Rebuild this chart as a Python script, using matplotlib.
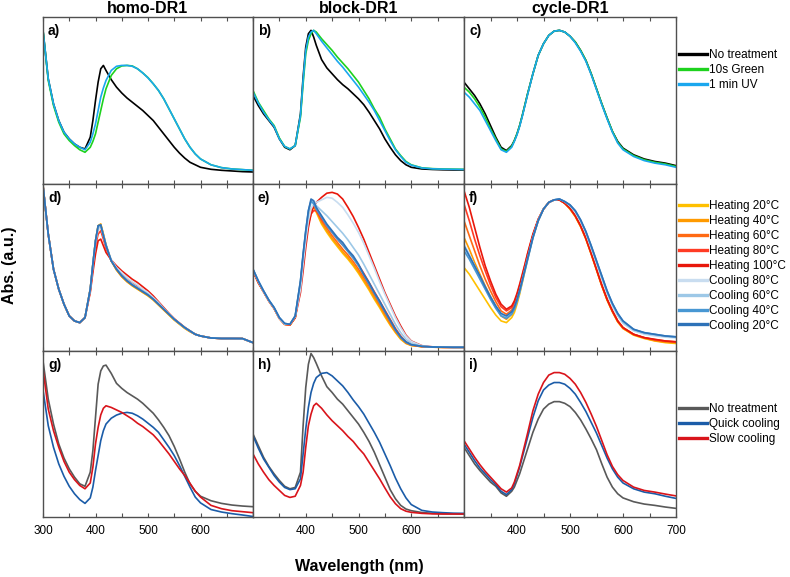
import matplotlib
matplotlib.use("Agg")
import matplotlib.pyplot as plt

plt.rcParams["font.family"] = ["Liberation Sans", "DejaVu Sans"]

# ----------------------------- Data ------------------------------------------
# wavelength grid (nm); values are absorbance in % of panel height (a.u.)
WL = [300, 310, 320, 330, 340, 350, 360, 370, 380, 390,
      395, 400, 405, 410, 415, 420,
      430, 440, 450, 460, 470, 480, 490, 500, 510, 520, 530, 540, 550, 560, 570, 580, 590, 600,
      620, 640, 660, 680, 700]

COLUMN_TITLES = ["homo-DR1", "block-DR1", "cycle-DR1"]
PANEL_LABELS = ["a)", "b)", "c)", "d)", "e)", "f)", "g)", "h)", "i)"]

# row 1: light treatment
LIGHT_LABELS = ["No treatment", "10s Green", "1 min UV"]
LIGHT_COLORS = ["#000000", "#1ED21E", "#1AA7EE"]
A_BLACK = [92, 63, 48, 38, 31, 27, 24, 22, 21, 28,
           38, 50, 61, 69, 71, 68,
           62.5, 58, 54.5, 51.5, 49, 46.5, 44, 41, 38, 34, 30, 26, 22, 18.5, 15.5, 13, 11.5, 10,
           8.8, 8.2, 7.8, 7.4, 7.2]
A_GREEN = [92, 62, 47, 37, 30, 26, 23, 20.5, 19, 22,
           25.5, 30, 37, 44, 51, 57,
           65, 69, 70.7, 71, 70.7, 69, 66.5, 63.7, 60, 56, 51, 45, 39, 33, 27, 22, 18, 15,
           11.5, 9.8, 9, 8.6, 8.2]
A_BLUE = [92, 63, 48, 38, 31, 27, 24, 22, 20.5, 25,
          30, 36, 44, 52, 57.5, 62,
          68, 70.5, 71, 71, 70.5, 69, 66.5, 63.5, 60, 56, 51, 45, 39, 33, 27, 22, 18, 15,
          11.5, 9.8, 9, 8.6, 8.2]
B_BLACK = [53, 47, 42, 38, 34, 27, 22, 20.5, 23, 42,
           64, 82, 90, 92, 88, 83,
           74.5, 69.5, 66, 62.5, 59.5, 57, 54, 51, 47.5, 43, 38, 33, 27, 22, 17.5, 14, 11.5, 10,
           9, 8.7, 8.5, 8.4, 8.4]
B_GREEN = [56, 49, 44, 39, 35, 27.5, 22.5, 21, 23, 40,
           60, 78, 86, 90, 92, 91,
           87, 83.5, 80, 76, 72.5, 69, 65, 61, 56, 51, 45, 40, 33, 27, 21, 17, 13.5, 11.5,
           9.7, 9.2, 9, 8.9, 8.8]
B_BLUE = [55, 48.5, 43, 38.5, 34.5, 27, 22.5, 21, 23, 41,
          62, 80, 88, 91, 92, 90,
          85.5, 81.5, 77.5, 73.5, 70, 66, 62, 58, 53.5, 49, 44, 38, 32, 26, 20.5, 16.5, 13, 11.3,
          9.6, 9.1, 8.9, 8.8, 8.7]
C_BLACK = [61, 57, 53, 48, 42, 35, 28, 22, 20, 23,
           26, 30, 35, 41, 47.5, 54,
           66, 77, 84, 89, 91.5, 92, 91, 88.5, 85, 80, 74, 66, 57, 48, 39.5, 31.5, 25.5, 21.5,
           17.5, 15, 13.5, 12.5, 11]
C_GREEN = [58, 55, 51, 46, 40, 33, 27, 21, 19.5, 22.5,
           26, 30, 35, 41, 47.5, 54,
           66, 77, 84, 89, 91.5, 92, 91, 88.5, 85, 80, 74, 66, 57, 48, 39.5, 31.5, 25, 21,
           17, 14.5, 13, 12, 10.5]
C_BLUE = [55, 52, 48, 44, 38, 32, 26, 20.5, 19, 22,
          25.5, 29.5, 34.5, 40.5, 47, 53.5,
          66, 77, 84, 89, 91.5, 92, 91, 88.5, 84.5, 79.5, 73.5, 65.5, 56.5, 47.5, 39, 31, 24.5, 20.5,
          16.5, 14, 12.5, 11.5, 10]

# row 2: heating / cooling
TEMP_LABELS = ["Heating 20°C", "Heating 40°C", "Heating 60°C", "Heating 80°C", "Heating 100°C",
               "Cooling 80°C", "Cooling 60°C", "Cooling 40°C", "Cooling 20°C"]
TEMP_COLORS = ["#FFC000", "#FF9A00", "#FF6A14", "#FF3B24", "#E8170B",
               "#C9DDF0", "#9DC8E7", "#4897D3", "#2E72B8"]
D_H20 = [99, 70, 49, 37, 28, 21, 18, 17, 20, 37,
         52, 66, 75, 76, 70, 63.5,
         54, 48.5, 44.5, 41.5, 39, 37, 35, 33, 30.5, 27.5, 24.5, 21.5, 18.5, 16, 13.5, 11.5, 10, 9,
         7.8, 7.5, 7.5, 7.4, 5]
D_H40 = [99, 70, 49, 37, 28, 21, 18, 17, 20, 37,
         52, 66, 75, 76, 70, 63.5,
         54, 48.5, 44.5, 41.5, 39.2, 37.2, 35.2, 33.2, 30.7, 27.7, 24.7, 21.7, 18.7, 16.2, 13.7, 11.7, 10, 9,
         7.8, 7.5, 7.5, 7.4, 5]
D_H60 = [99, 70, 49, 37, 28, 21, 18, 17, 20, 37,
         51, 65, 73, 74, 69, 63,
         54, 49, 45, 42, 39.6, 37.6, 35.6, 33.6, 31, 28, 25, 22, 19, 16.5, 14, 12, 10, 9,
         7.8, 7.5, 7.5, 7.4, 5]
D_H80 = [99, 70, 49, 37, 28, 21, 18, 17, 20, 36,
         50, 63, 70, 72, 67, 61.5,
         54, 50, 46.5, 43.5, 41, 39, 36.8, 34.5, 32, 28.8, 25.5, 22.3, 19.2, 16.6, 14, 12, 10, 9,
         7.8, 7.5, 7.5, 7.4, 5]
D_H100 = [99, 70, 49, 37, 28, 21, 18, 17, 20, 35,
          47, 58, 66, 67, 63, 59,
          54.5, 51, 48, 45.5, 43, 41, 38.5, 36, 33, 29.5, 26, 22.5, 19.3, 16.7, 14.2, 12, 10, 9,
          7.8, 7.5, 7.5, 7.4, 5]
D_C80 = [99, 70, 49, 37, 28, 21, 18, 17, 20, 36.5,
         51, 65, 73, 74, 69, 63,
         54.5, 50, 47, 44, 41.5, 39.5, 37, 35, 32, 29, 25.5, 22.2, 19.1, 16.5, 14, 12, 10, 9,
         7.8, 7.5, 7.5, 7.4, 5]
D_C60 = [99, 70, 49, 37, 28, 21, 18, 17, 20, 37,
         52, 66, 74, 75, 69.5, 63.5,
         54.2, 49.3, 45.6, 42.6, 40.1, 38, 36, 34, 31.3, 28.3, 25.2, 22, 19, 16.5, 14, 12, 10, 9,
         7.8, 7.5, 7.5, 7.4, 5]
D_C40 = [99, 70, 49, 37, 28, 21, 18, 17, 20, 37,
         52, 66, 75, 75.5, 69.5, 63.5,
         54, 49, 45.2, 42.2, 39.7, 37.7, 35.7, 33.7, 31.1, 28.1, 25.1, 22, 19, 16.5, 14, 12, 10, 9,
         7.8, 7.5, 7.5, 7.4, 5]
D_C20 = [99, 70, 49, 37, 28, 21, 18, 17, 20, 37,
         52, 66, 75, 75.5, 69, 63,
         54, 49, 45, 42, 39.5, 37.5, 35.5, 33.5, 31, 28, 25, 22, 19, 16.5, 14, 12, 10, 9,
         7.8, 7.5, 7.5, 7.5, 5]

E_H20 = [48, 41, 35.5, 30, 25.5, 19.5, 16, 15.5, 20, 40,
         56, 70, 78, 84, 86, 83,
         76, 71, 66.5, 62.5, 58.5, 55, 51, 46.5, 41.5, 36.5, 31, 26, 20.5, 15.5, 11, 7, 4.5, 3.3,
         2.6, 2.3, 2.2, 2.2, 2.2]
E_H40 = [48, 41, 35.5, 30, 25.5, 19.5, 16, 15.5, 20, 40,
         56, 70, 79, 85, 87, 84,
         77, 72, 67.5, 63.5, 59.5, 56, 52, 47.5, 42.5, 37.5, 32, 27, 21.5, 16, 11.5, 7.5, 4.7, 3.4,
         2.6, 2.3, 2.2, 2.2, 2.2]
E_H60 = [48, 41, 35.5, 30, 25.5, 19.5, 16, 15.5, 20, 40,
         55, 69, 78, 84, 86, 84.5,
         78, 73.5, 69, 65, 61, 57.5, 53.5, 49, 44, 39, 33.5, 28, 22.5, 17, 12, 8, 5, 3.5,
         2.6, 2.3, 2.2, 2.2, 2.2]
E_H80 = [48, 41, 35.5, 30, 25.5, 19.5, 16, 15.5, 20, 38,
         52, 66, 76, 82, 84, 84,
         79, 75, 71, 67, 63.5, 60, 56, 51.5, 46.5, 41, 35.5, 30, 24.5, 19, 13.5, 9, 5.5, 3.8,
         2.7, 2.4, 2.2, 2.2, 2.2]
E_H100 = [48, 41, 35.5, 30, 25.5, 19.5, 16, 16, 20, 35,
          48, 62, 74, 82, 87, 89,
          92, 94.5, 95, 94, 91, 86, 80.5, 74, 67, 59, 51, 43, 35, 28, 21, 15, 9.5, 6,
          3.2, 2.5, 2.3, 2.2, 2.2]
E_C80 = [48.5, 41.5, 35.5, 30, 25.5, 19.5, 16, 16, 20.5, 37,
         52, 66, 78, 85, 88, 89,
         90.5, 92, 91.5, 89, 86, 81.5, 76.5, 71, 64.5, 57, 49.5, 41.5, 34, 27, 20, 14, 9, 5.8,
         3.1, 2.5, 2.3, 2.2, 2.2]
E_C60 = [49, 42, 36, 30.5, 26, 20, 16.5, 16, 21, 41,
         57, 71, 82, 89, 89, 87,
         84, 81, 77.5, 74, 70.5, 66.5, 62, 57.5, 52, 46, 40, 34, 28, 22, 16, 11, 7, 4.5,
         2.8, 2.4, 2.3, 2.2, 2.2]
E_C40 = [49, 42, 36, 30.5, 26, 20, 16.5, 16, 21, 42,
         58, 72, 84, 90, 88, 85,
         80, 75, 71, 67, 63.5, 59.5, 55.5, 51, 45.5, 40, 34.5, 29, 23.5, 18, 12.5, 8, 5.2, 3.7,
         2.8, 2.4, 2.3, 2.2, 2.2]
E_C20 = [49, 42, 36, 30.5, 26, 20, 16.5, 16, 21, 42,
         58, 72, 84, 91, 90, 86,
         81, 76, 72, 68, 65, 60.5, 57, 52, 46, 41, 35, 30, 24, 18.5, 13, 8.5, 5.5, 3.8,
         2.8, 2.4, 2.3, 2.2, 2.2]

F_H20 = [50, 46, 41, 36, 31, 26, 21.5, 18, 17, 20,
         23, 28, 34, 41, 48, 55,
         68, 78, 85, 89, 90.5, 90.5, 88.5, 85, 80.5, 74.5, 67, 58, 48.5, 39, 30.5, 23.5, 17.5, 13.5,
         9.5, 7.5, 6, 5, 4.5]
F_H40 = [68, 61, 53, 46, 39, 32.5, 26.5, 21, 19, 22,
         25, 30, 36, 42.5, 49.5, 56,
         68.5, 78.5, 85, 89, 90.5, 90.5, 88.5, 85, 80.5, 74.5, 67, 58, 48.5, 39, 30.5, 23.5, 17.5, 13.5,
         9.7, 7.7, 6.2, 5.3, 5]
F_H60 = [78, 69, 60, 51, 43, 36, 29.5, 24, 22, 24.5,
         27.5, 32, 38, 44, 50.5, 57,
         69, 78.5, 85, 89, 90.5, 90.5, 88.5, 85.5, 81, 75, 67.5, 58.5, 49, 39.5, 31, 24, 18, 14,
         10, 8, 6.5, 5.7, 5.3]
F_H80 = [88, 78, 67, 57, 48, 39.5, 32, 26.5, 24, 26,
         29, 33.5, 39, 45, 51.5, 58,
         69.5, 78.5, 85, 89, 90.5, 90.5, 88.5, 85.5, 81, 75, 67.5, 58.5, 49, 39.5, 31, 24, 18, 14,
         10, 8, 6.8, 6, 5.5]
F_H100 = [96, 86, 74, 62, 51, 42, 34, 28, 25, 27,
          30, 34.5, 40, 46, 52, 58.5,
          70, 79, 85, 89, 90.5, 90.5, 88.5, 85.5, 81, 75, 67.5, 58.5, 49, 39.5, 31, 24, 18, 14,
          10, 8, 7, 6, 5.5]
F_C80 = [64, 58, 51, 44.5, 38, 32, 26.5, 22, 20.5, 23,
         26, 30.5, 36, 42.5, 49, 55.5,
         68, 78, 85, 89, 90.5, 91, 89.5, 87, 83, 77.5, 70.5, 61.5, 52.5, 43, 34.5, 27, 21, 16.5,
         12, 10, 9, 8.3, 7.8]
F_C60 = [62, 56.5, 50, 44, 37.5, 31.5, 26, 21.5, 20, 22.5,
         25.5, 30, 35.5, 42, 48.5, 55,
         68, 78, 85, 89, 90.5, 91, 89.5, 87, 83.5, 78, 71, 62, 53, 44, 35, 27.5, 21.5, 17,
         12.5, 10.5, 9.5, 8.7, 8.2]
F_C40 = [60, 55, 49, 43, 37, 31, 25.5, 21, 19.5, 22,
         25, 29.5, 35, 41.5, 48, 54.5,
         67.5, 78, 85, 89, 90.5, 91, 89.5, 87.5, 84, 78.5, 71.5, 63, 54, 45, 36, 28.5, 22.5, 18,
         13, 11, 10, 9, 8.5]
F_C20 = [63, 57, 51, 45, 38.5, 32.5, 27, 22.5, 21, 23.5,
         26.5, 31, 36.5, 42.5, 49, 55.5,
         68, 78, 85, 89, 90.5, 91, 89.5, 87.5, 84, 78.5, 71.5, 63, 54, 45, 36, 28.5, 22.5, 18,
         13, 11, 10, 9, 8.5]

# row 3: cooling rate
COOL_LABELS = ["No treatment", "Quick cooling", "Slow cooling"]
COOL_COLORS = ["#595959", "#1B5CA8", "#D9141B"]
G_GREY = [94, 71, 56, 44, 35.5, 29, 24, 20, 18.5, 27,
          40, 60, 80, 88, 91, 91.5,
          86.5, 80.5, 77.5, 75, 73, 71, 68.5, 65.5, 62.5, 58.5, 54, 49, 42.5, 35, 27, 20, 15.5, 12.5,
          9.8, 8.2, 7.2, 6.6, 6.2]
G_BLUE = [76.5, 55, 42, 32, 24.5, 18.5, 14, 10.5, 8.2, 11.5,
          18, 28, 37, 46, 52, 56,
          59.5, 61.4, 62.5, 63, 62.5, 61, 59, 56.5, 54, 51, 46.5, 42, 37, 31, 24.5, 18, 12, 8.5,
          4.5, 3, 2, 1.2, 0.3]
G_RED = [89, 65, 52, 42, 33.5, 27, 22.5, 19, 17, 20.5,
         30, 44, 54, 61.5, 65.5, 67,
         66, 64.5, 63, 61, 59, 56.5, 54.5, 52, 49.5, 46, 42, 38, 33.5, 29, 25, 20.3, 15.5, 12,
         7, 5, 3.8, 3.2, 2.6]
H_GREY = [50, 43, 36, 30.5, 26, 22, 18.5, 17, 17.8, 27,
          55, 78, 92, 98.5, 96, 92.5,
          85, 78.5, 75, 71, 68, 64, 60, 56, 51, 45.5, 39, 31.5, 24, 16.5, 11, 7, 4.8, 3.8,
          2.7, 2.2, 2, 1.9, 1.8]
H_BLUE = [49, 41.5, 35, 30, 25, 21, 17.8, 16.5, 17, 23,
          38, 53, 66, 75, 80.5, 84,
          86.5, 87, 85, 82, 79, 75, 70.5, 66.5, 62, 56.5, 51, 45, 38, 31, 23.5, 17, 11.5, 7.5,
          4, 3, 2.6, 2.3, 2.2]
H_RED = [38, 32, 27, 22.5, 19, 16, 13, 11.8, 12.5, 19,
         27, 42, 55, 62, 67, 68.5,
         65.5, 61.5, 58, 55, 52, 48.5, 45.5, 41.5, 38, 33, 28, 23, 17.5, 12.2, 8, 5, 3.5, 2.8,
         2.2, 1.9, 1.8, 1.8, 1.8]
I_GREY = [42, 37, 32, 28, 24.5, 21, 18.5, 14.5, 12.5, 15.5,
          18, 22, 26, 31, 36, 41,
          51, 59, 65, 68, 69.5, 69.5, 68.5, 66.5, 63, 58.5, 53, 47, 40.5, 32, 24, 18, 14, 11.5,
          9.2, 7.8, 7, 6, 5.2]
I_BLUE = [44, 39, 34, 29.5, 26, 22.5, 19.5, 15.5, 13.5, 16.5,
          20, 25, 30, 36, 42, 48,
          60, 70, 76.5, 79.5, 81, 81, 80, 77.5, 74, 69, 63.5, 57, 50.5, 43, 35.5, 29, 24, 20.5,
          17, 15, 14, 12.5, 11.2]
I_RED = [46, 41, 36, 31.5, 27.5, 24, 20.5, 17, 15, 17.5,
         21, 26, 31, 37.5, 44, 50.5,
         64, 74, 81, 85.5, 87, 87, 86, 83.5, 80, 75, 69, 62, 54.5, 46, 37.5, 30.5, 25.5, 22,
         18, 16, 15, 13.8, 12.7]

ROWS = [
    (LIGHT_LABELS, LIGHT_COLORS, [[A_BLACK, A_GREEN, A_BLUE],
                                  [B_BLACK, B_GREEN, B_BLUE],
                                  [C_BLACK, C_GREEN, C_BLUE]]),
    (TEMP_LABELS, TEMP_COLORS, [[D_H20, D_H40, D_H60, D_H80, D_H100, D_C80, D_C60, D_C40, D_C20],
                                [E_H20, E_H40, E_H60, E_H80, E_H100, E_C80, E_C60, E_C40, E_C20],
                                [F_H20, F_H40, F_H60, F_H80, F_H100, F_C80, F_C60, F_C40, F_C20]]),
    (COOL_LABELS, COOL_COLORS, [[G_GREY, G_BLUE, G_RED],
                                [H_GREY, H_BLUE, H_RED],
                                [I_GREY, I_BLUE, I_RED]]),
]

# ----------------------------- Layout (pixels) -------------------------------
W, H = 790, 577
COL_X = [43, 253, 464]
COL_W = [210, 211, 212]
ROW_Y = [17, 184, 351]
ROW_H = [167, 167, 166]
LEGEND_TOP = [49, 200, 403]
SPINE = "#505050"


def fx(px):
    return px / W


def fy(py):
    return 1 - py / H


def tick_labels(col):
    if col == 0:
        return ["300", "400", "500", "600", ""]
    if col == 1:
        return ["", "400", "500", "600", ""]
    return ["", "400", "500", "600", "700"]


def main():
    fig = plt.figure(figsize=(W / 100, H / 100), dpi=100)

    for r, (labels, colors, panels) in enumerate(ROWS):
        for c, series in enumerate(panels):
            ax = fig.add_axes([fx(COL_X[c]), fy(ROW_Y[r] + ROW_H[r]), fx(COL_W[c]), ROW_H[r] / H])
            for values, lab, col in zip(series, labels, colors):
                ax.plot(WL, values, color=col, lw=1.2, label=lab, solid_joinstyle="round")
            ax.set_xlim(300, 700)
            ax.set_ylim(0, 100)
            ax.set_yticks([])
            ax.set_xticks([300, 400, 500, 600, 700])
            ax.set_xticks([350, 450, 550, 650], minor=True)
            if r == 2:
                ax.set_xticklabels(tick_labels(c), fontsize=8.5)
            else:
                ax.set_xticklabels([])
            ax.tick_params(axis="x", which="both", direction="in", top=True, bottom=True,
                           length=3, width=0.8, color=SPINE, pad=6)
            for sp in ax.spines.values():
                sp.set_color(SPINE)
                sp.set_linewidth(1.0)
            ax.text(5 / COL_W[c], 1 - 14 / ROW_H[r], PANEL_LABELS[r * 3 + c], transform=ax.transAxes,
                    fontsize=10, fontweight="bold", va="center", ha="left")
            if r == 0:
                ax.set_title(COLUMN_TITLES[c], fontsize=11.5, fontweight="bold", pad=3)
            if c == 2:
                leg = ax.legend(loc="upper left", bbox_to_anchor=(fx(679), fy(LEGEND_TOP[r])),
                                bbox_transform=fig.transFigure, frameon=False, fontsize=8.5,
                                handlelength=2.4, handletextpad=0.15, labelspacing=0.25,
                                borderpad=0, borderaxespad=0)
                for line in leg.get_lines():
                    line.set_linewidth(2.4)

    fig.text(fx(10), fy(265), "Abs. (a.u.)", rotation=90, fontsize=11.5, fontweight="bold",
             ha="center", va="center")
    fig.text(fx(359), fy(567), "Wavelength (nm)", fontsize=11.5, fontweight="bold",
             ha="center", va="center")

    fig.savefig("out.png", dpi=100)


if __name__ == "__main__":
    main()
